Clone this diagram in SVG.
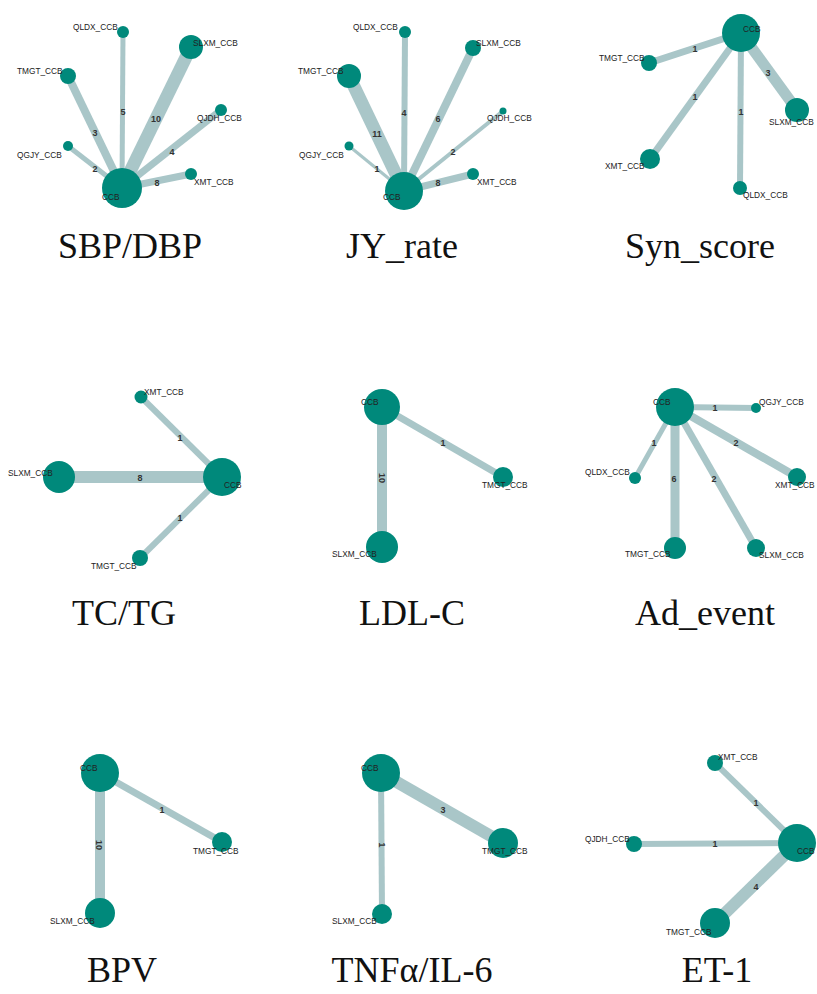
<svg xmlns="http://www.w3.org/2000/svg" width="817" height="994" viewBox="0 0 817 994">
<style>
.bg{fill:#ffffff}
.e{stroke:#A9C6C8;stroke-linecap:butt}
.n{fill:#00897B}
.nl{font-family:"Liberation Sans",Arial,sans-serif;font-size:8.3px;fill:#222}
.el{font-family:"Liberation Sans",Arial,sans-serif;font-size:9px;font-weight:bold;fill:#333;text-anchor:middle;dominant-baseline:central}
.t{font-family:"Liberation Serif","Times New Roman",serif;font-size:36px;fill:#111;text-anchor:middle}
</style>
<rect class="bg" x="0" y="0" width="817" height="994"/>

<!-- Panel 1 SBP/DBP -->
<g id="p1">
<g id="p1-edges">
<line class="e" x1="122" y1="188" x2="123" y2="32" stroke-width="5"/>
<line class="e" x1="122" y1="188" x2="191" y2="47" stroke-width="13"/>
<line class="e" x1="122" y1="188" x2="68" y2="76" stroke-width="8"/>
<line class="e" x1="122" y1="188" x2="221" y2="110" stroke-width="7"/>
<line class="e" x1="122" y1="188" x2="68" y2="146" stroke-width="5"/>
<line class="e" x1="122" y1="188" x2="191" y2="174" stroke-width="7"/>
<text class="el" x="123" y="112">5</text>
<text class="el" x="156" y="119">10</text>
<text class="el" x="95" y="133">3</text>
<text class="el" x="172" y="152">4</text>
<text class="el" x="95" y="169">2</text>
<text class="el" x="157" y="183">8</text>
</g>
<g id="p1-CCB"><circle class="n" cx="122" cy="188" r="20"/><text class="nl" x="102" y="200">CCB</text></g>
<g id="p1-QLDX"><circle class="n" cx="123" cy="32" r="6"/><text class="nl" x="73" y="30">QLDX_CCB</text></g>
<g id="p1-SLXM"><circle class="n" cx="191" cy="47" r="12"/><text class="nl" x="193" y="46">SLXM_CCB</text></g>
<g id="p1-TMGT"><circle class="n" cx="68" cy="76" r="8"/><text class="nl" x="17" y="74">TMGT_CCB</text></g>
<g id="p1-QJDH"><circle class="n" cx="221" cy="110" r="6"/><text class="nl" x="197" y="121">QJDH_CCB</text></g>
<g id="p1-QGJY"><circle class="n" cx="68" cy="146" r="5"/><text class="nl" x="17" y="158">QGJY_CCB</text></g>
<g id="p1-XMT"><circle class="n" cx="191" cy="174" r="6"/><text class="nl" x="194" y="185">XMT_CCB</text></g>
<text class="t" x="130" y="258">SBP/DBP</text>
</g>

<!-- Panel 2 JY_rate -->
<g id="p2">
<g id="p2-edges">
<line class="e" x1="404" y1="191" x2="405" y2="32" stroke-width="6"/>
<line class="e" x1="404" y1="191" x2="473" y2="48" stroke-width="8"/>
<line class="e" x1="404" y1="191" x2="349" y2="76" stroke-width="13"/>
<line class="e" x1="404" y1="191" x2="503" y2="111" stroke-width="4"/>
<line class="e" x1="404" y1="191" x2="349" y2="146" stroke-width="3"/>
<line class="e" x1="404" y1="191" x2="473" y2="174" stroke-width="7"/>
<text class="el" x="404" y="113">4</text>
<text class="el" x="438" y="119">6</text>
<text class="el" x="377" y="134">11</text>
<text class="el" x="453" y="152">2</text>
<text class="el" x="377" y="169">1</text>
<text class="el" x="438" y="183">8</text>
</g>
<g id="p2-CCB"><circle class="n" cx="404" cy="191" r="19"/><text class="nl" x="383" y="200">CCB</text></g>
<g id="p2-QLDX"><circle class="n" cx="405" cy="32" r="6"/><text class="nl" x="353" y="30">QLDX_CCB</text></g>
<g id="p2-SLXM"><circle class="n" cx="473" cy="48" r="8"/><text class="nl" x="476" y="46">SLXM_CCB</text></g>
<g id="p2-TMGT"><circle class="n" cx="349" cy="76" r="12"/><text class="nl" x="298" y="74">TMGT_CCB</text></g>
<g id="p2-QJDH"><circle class="n" cx="503" cy="111" r="3.5"/><text class="nl" x="487" y="121">QJDH_CCB</text></g>
<g id="p2-QGJY"><circle class="n" cx="349" cy="146" r="4.5"/><text class="nl" x="299" y="158">QGJY_CCB</text></g>
<g id="p2-XMT"><circle class="n" cx="473" cy="174" r="6"/><text class="nl" x="477" y="185">XMT_CCB</text></g>
<text class="t" x="402" y="258">JY_rate</text>
</g>

<!-- Panel 3 Syn_score -->
<g id="p3">
<g id="p3-edges">
<line class="e" x1="741" y1="33" x2="649" y2="63" stroke-width="7"/>
<line class="e" x1="741" y1="33" x2="650" y2="159" stroke-width="7"/>
<line class="e" x1="741" y1="33" x2="740" y2="188" stroke-width="6"/>
<line class="e" x1="741" y1="33" x2="797" y2="110" stroke-width="11"/>
<text class="el" x="695" y="49">1</text>
<text class="el" x="695" y="97">1</text>
<text class="el" x="741" y="112">1</text>
<text class="el" x="768" y="73">3</text>
</g>
<g id="p3-CCB"><circle class="n" cx="741" cy="33" r="19"/><text class="nl" x="743" y="32">CCB</text></g>
<g id="p3-TMGT"><circle class="n" cx="649" cy="63" r="8"/><text class="nl" x="599" y="61">TMGT_CCB</text></g>
<g id="p3-SLXM"><circle class="n" cx="797" cy="110" r="12"/><text class="nl" x="769" y="125">SLXM_CCB</text></g>
<g id="p3-XMT"><circle class="n" cx="650" cy="159" r="10"/><text class="nl" x="605" y="169">XMT_CCB</text></g>
<g id="p3-QLDX"><circle class="n" cx="740" cy="188" r="7"/><text class="nl" x="743" y="198">QLDX_CCB</text></g>
<text class="t" x="700" y="258">Syn_score</text>
</g>

<!-- Panel 4 TC/TG -->
<g id="p4">
<g id="p4-edges">
<line class="e" x1="222" y1="477" x2="141" y2="397" stroke-width="6"/>
<line class="e" x1="222" y1="477" x2="59" y2="477" stroke-width="12"/>
<line class="e" x1="222" y1="477" x2="140" y2="558" stroke-width="6"/>
<text class="el" x="180" y="438">1</text>
<text class="el" x="140" y="478">8</text>
<text class="el" x="180" y="518">1</text>
</g>
<g id="p4-CCB"><circle class="n" cx="222" cy="477" r="19"/><text class="nl" x="224" y="488">CCB</text></g>
<g id="p4-XMT"><circle class="n" cx="141" cy="397" r="6.5"/><text class="nl" x="144" y="395">XMT_CCB</text></g>
<g id="p4-SLXM"><circle class="n" cx="59" cy="477" r="16"/><text class="nl" x="8" y="476">SLXM_CCB</text></g>
<g id="p4-TMGT"><circle class="n" cx="140" cy="558" r="8"/><text class="nl" x="91" y="569">TMGT_CCB</text></g>
<text class="t" x="124" y="625">TC/TG</text>
</g>

<!-- Panel 5 LDL-C -->
<g id="p5">
<g id="p5-edges">
<line class="e" x1="382" y1="407" x2="503" y2="477" stroke-width="7"/>
<line class="e" x1="382" y1="407" x2="382" y2="547" stroke-width="10"/>
<text class="el" x="443" y="443">1</text>
<text class="el" x="382" y="478" transform="rotate(90 382 478)">10</text>
</g>
<g id="p5-CCB"><circle class="n" cx="382" cy="407" r="18"/><text class="nl" x="361" y="405">CCB</text></g>
<g id="p5-TMGT"><circle class="n" cx="503" cy="477" r="10"/><text class="nl" x="482" y="488">TMGT_CCB</text></g>
<g id="p5-SLXM"><circle class="n" cx="382" cy="547" r="16"/><text class="nl" x="332" y="557">SLXM_CCB</text></g>
<text class="t" x="412" y="625">LDL-C</text>
</g>

<!-- Panel 6 Ad_event -->
<g id="p6">
<g id="p6-edges">
<line class="e" x1="675" y1="407" x2="756" y2="408" stroke-width="6"/>
<line class="e" x1="675" y1="407" x2="635" y2="478" stroke-width="5"/>
<line class="e" x1="675" y1="407" x2="797" y2="477" stroke-width="8"/>
<line class="e" x1="675" y1="407" x2="675" y2="548" stroke-width="9"/>
<line class="e" x1="675" y1="407" x2="756" y2="548" stroke-width="7"/>
<text class="el" x="715" y="408">1</text>
<text class="el" x="654" y="443">1</text>
<text class="el" x="736" y="443">2</text>
<text class="el" x="674" y="479">6</text>
<text class="el" x="714" y="479">2</text>
</g>
<g id="p6-CCB"><circle class="n" cx="675" cy="407" r="19"/><text class="nl" x="653" y="405">CCB</text></g>
<g id="p6-QGJY"><circle class="n" cx="756" cy="408" r="5"/><text class="nl" x="759" y="405">QGJY_CCB</text></g>
<g id="p6-QLDX"><circle class="n" cx="635" cy="478" r="6"/><text class="nl" x="585" y="475">QLDX_CCB</text></g>
<g id="p6-XMT"><circle class="n" cx="797" cy="477" r="9"/><text class="nl" x="775" y="488">XMT_CCB</text></g>
<g id="p6-TMGT"><circle class="n" cx="675" cy="548" r="11"/><text class="nl" x="625" y="557">TMGT_CCB</text></g>
<g id="p6-SLXM"><circle class="n" cx="756" cy="548" r="9"/><text class="nl" x="759" y="558">SLXM_CCB</text></g>
<text class="t" x="705" y="625">Ad_event</text>
</g>

<!-- Panel 7 BPV -->
<g id="p7">
<g id="p7-edges">
<line class="e" x1="100" y1="773" x2="222" y2="842" stroke-width="7"/>
<line class="e" x1="100" y1="773" x2="100" y2="913" stroke-width="10"/>
<text class="el" x="162" y="810">1</text>
<text class="el" x="99" y="845" transform="rotate(90 99 845)">10</text>
</g>
<g id="p7-CCB"><circle class="n" cx="100" cy="773" r="19"/><text class="nl" x="80" y="771">CCB</text></g>
<g id="p7-TMGT"><circle class="n" cx="222" cy="842" r="10"/><text class="nl" x="193" y="854">TMGT_CCB</text></g>
<g id="p7-SLXM"><circle class="n" cx="100" cy="913" r="15"/><text class="nl" x="50" y="924">SLXM_CCB</text></g>
<text class="t" x="122" y="982">BPV</text>
</g>

<!-- Panel 8 TNFα/IL-6 -->
<g id="p8">
<g id="p8-edges">
<line class="e" x1="381" y1="773" x2="503" y2="843" stroke-width="12"/>
<line class="e" x1="381" y1="773" x2="382" y2="914" stroke-width="6"/>
<text class="el" x="443" y="810">3</text>
<text class="el" x="382" y="845" transform="rotate(90 382 845)">1</text>
</g>
<g id="p8-CCB"><circle class="n" cx="381" cy="773" r="19"/><text class="nl" x="361" y="771">CCB</text></g>
<g id="p8-TMGT"><circle class="n" cx="503" cy="843" r="15"/><text class="nl" x="482" y="854">TMGT_CCB</text></g>
<g id="p8-SLXM"><circle class="n" cx="382" cy="914" r="10"/><text class="nl" x="332" y="924">SLXM_CCB</text></g>
<text class="t" x="412" y="982">TNFα/IL-6</text>
</g>

<!-- Panel 9 ET-1 -->
<g id="p9">
<g id="p9-edges">
<line class="e" x1="797" y1="843" x2="715" y2="763" stroke-width="6"/>
<line class="e" x1="797" y1="843" x2="634" y2="844" stroke-width="6"/>
<line class="e" x1="797" y1="843" x2="715" y2="923" stroke-width="12"/>
<text class="el" x="756" y="803">1</text>
<text class="el" x="715" y="844">1</text>
<text class="el" x="756" y="887">4</text>
</g>
<g id="p9-CCB"><circle class="n" cx="797" cy="843" r="19"/><text class="nl" x="797" y="854">CCB</text></g>
<g id="p9-XMT"><circle class="n" cx="715" cy="763" r="8"/><text class="nl" x="718" y="760">XMT_CCB</text></g>
<g id="p9-QJDH"><circle class="n" cx="634" cy="844" r="8"/><text class="nl" x="585" y="842">QJDH_CCB</text></g>
<g id="p9-TMGT"><circle class="n" cx="715" cy="923" r="15"/><text class="nl" x="666" y="935">TMGT_CCB</text></g>
<text class="t" x="717" y="982">ET-1</text>
</g>
</svg>
